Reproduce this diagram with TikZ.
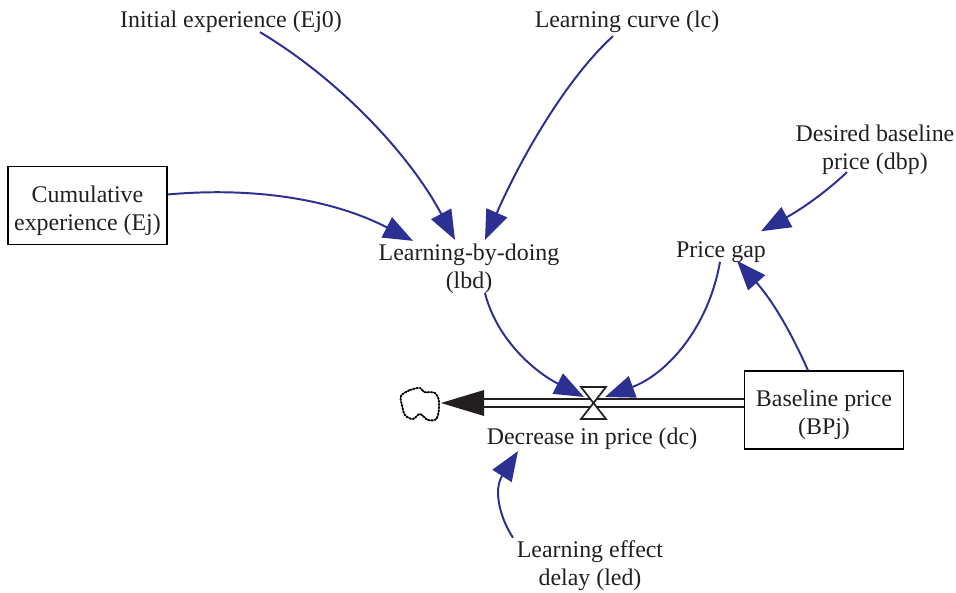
\documentclass[tikz,border=0pt]{standalone}
\usepackage{fontspec}
\setmainfont{Liberation Serif}
\usetikzlibrary{arrows.meta}
\definecolor{linkblue}{HTML}{2B3092}
\definecolor{inkgrey}{HTML}{231F20}
\newcommand{\boxstrut}{\rule{0pt}{18.7pt}}
\tikzset{
  varlabel/.style={align=center, inner sep=0pt, text=inkgrey, font=\fontsize{17}{19.9}\selectfont},
  stock/.style={varlabel, draw=black, line width=0.9pt, minimum width=159*0.025cm, minimum height=78*0.025cm},
  link/.style={draw=linkblue, line width=1.4pt, -{Triangle[length=21pt, width=16pt]}},
  pipe/.style={draw=inkgrey, line width=1.3pt, double=white, double distance=4.2pt},
}

\begin{document}
\begin{tikzpicture}[x=0.025cm, y=-0.025cm]
\useasboundingbox (0,0) rectangle (956,593);
% Variables
\node[varlabel] (ej0) at (231,22) {Initial experience (Ej0)};
\node[varlabel] (lc) at (627,22) {Learning curve (lc)};
\node[varlabel] (dbp) at (875,150) {Desired baseline\\price (dbp)};
\node[varlabel] (lbd) at (469,269) {Learning-by-doing\\(lbd)};
\node[varlabel] (gap) at (721,252) {Price gap};
\node[varlabel] (dc) at (592,439) {Decrease in price (dc)};
\node[varlabel] (led) at (590,566) {Learning effect\\delay (led)};
% Stocks
\node[stock] (ej) at (87.5,205.5) {\boxstrut Cumulative\\experience (Ej)};
\node[stock] (bp) at (824,410) {\boxstrut Baseline price\\(BPj)};
% Cloud at the end of the flow
\coordinate (sink) at (441,403);
\coordinate (headbase) at (484,403);
\draw[black, line width=1.3pt, densely dotted, line join=round] plot[smooth cycle, tension=0.6] coordinates
  {(401,396) (410,390) (420,388) (424,392) (435,393) (439,402) (437,418) (428,420) (420,414) (413,419) (405,415) (402,405)};
\draw[black, line width=0.7pt] plot[smooth cycle, tension=0.6] coordinates
  {(401,396) (410,390) (420,388) (424,392) (435,393) (439,402) (437,418) (428,420) (420,414) (413,419) (405,415) (402,405)};
% Flow
\coordinate (valve) at (593,403);
\draw[pipe] (bp.west |- valve) -- (headbase);
\fill[inkgrey] (sink) -- (484,390) -- (484,416) -- cycle;
\draw[inkgrey, line width=1.2pt, line join=miter, fill=white] (581,387) -- (606,387) -- (581,419) -- (606,419) -- cycle;
% Links
\draw[link] ([shift={(0,-11)}]ej.east) .. controls (250,187) and (330,198) .. ([shift={(-56,-3)}]lbd.north);
\draw[link] ([shift={(29,-1)}]ej0.south) .. controls (340,80) and (410,155) .. ([shift={(-14,-4)}]lbd.north);
\draw[link] ([shift={(-14,3)}]lc.south) .. controls (565,80) and (520,160) .. ([shift={(16,-4)}]lbd.north);
\draw[link] ([shift={(-28,-3)}]dbp.south) .. controls (825,193) and (800,210) .. ([shift={(40,-10)}]gap.north);
\draw[link] ([shift={(-16,0)}]bp.north) .. controls (790,330) and (772,300) .. ([shift={(16,-2)}]gap.south);
\draw[link] ([shift={(16,-1)}]lbd.south) .. controls (497,340) and (535,372) .. ([shift={(-9,-6)}]valve);
\draw[link] ([shift={(-1,-1)}]gap.south) .. controls (708,330) and (665,375) .. ([shift={(12,-6)}]valve);
\draw[link] ([shift={(-77,-3)}]led.north) .. controls (500,518) and (493,490) .. ([shift={(-74,1)}]dc.south);
\end{tikzpicture}
\end{document}
